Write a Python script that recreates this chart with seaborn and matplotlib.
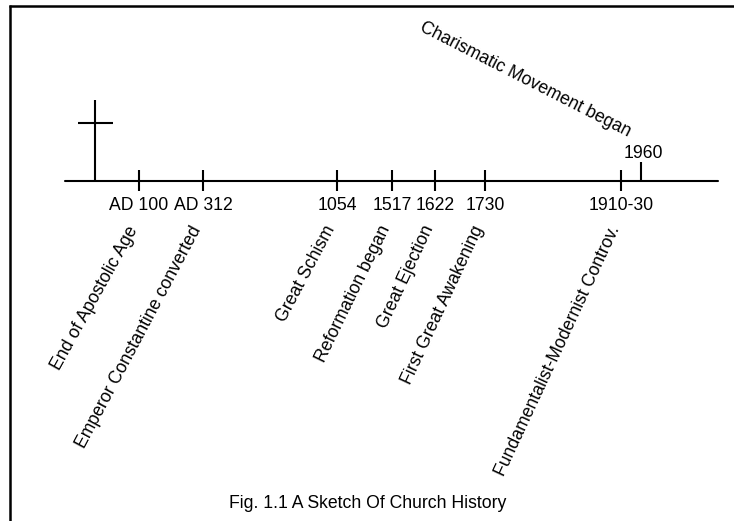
import matplotlib
matplotlib.use("Agg")
import matplotlib.pyplot as plt
import seaborn as sns
import pandas as pd

# ---- data ----
dates = ["AD 100", "AD 312", "1054", "1517", "1622", "1730", "1910-30", "1960"]
events = ["End of Apostolic Age", "Emperor Constantine converted", "Great Schism",
          "Reformation began", "Great Ejection", "First Great Awakening",
          "Fundamentalist-Modernist Controv.", "Charismatic Movement began"]
# sketch positions along the timeline (not to scale)
positions = [139, 203, 337, 392, 435, 485, 621, 641]
caption = "Fig. 1.1 A Sketch Of Church History"

# label angles (layout)
angles = [61, 62, 62, 64, 65, 65, 65]

sns.set_theme(style="white")
plt.rcParams["font.family"] = ["Liberation Sans", "DejaVu Sans"]

fig = plt.figure(figsize=(7.34, 5.21), dpi=100)
ax = fig.add_axes([0, 0, 1, 1])
ax.set_xlim(0, 734)
ax.set_ylim(521, 0)
ax.axis("off")

FS = 12.7
LW = 1.5
axis_y = 181

# frame (top and left only)
ax.plot([9, 734], [5.5, 5.5], color="black", lw=1.8, solid_capstyle="butt")
ax.plot([10, 10], [5, 521], color="black", lw=1.8, solid_capstyle="butt")

# timeline
line_df = pd.DataFrame({"x": [65, 718], "y": [axis_y, axis_y]})
sns.lineplot(data=line_df, x="x", y="y", ax=ax, color="black", lw=LW,
             sort=False, legend=False)

# cross
ax.vlines(95, 100, axis_y, color="black", lw=LW)
ax.hlines(123, 78, 113, color="black", lw=LW)

# ticks
ax.vlines(positions[:-1], 170, 191, color="black", lw=LW)
ax.vlines(positions[-1], 162, axis_y, color="black", lw=LW)

# date labels
for p, d in zip(positions[:-1], dates[:-1]):
    ax.text(p, 205, d, ha="center", va="center", fontsize=FS, color="black")
ax.text(positions[-1] + 2, 153, dates[-1], ha="center", va="center",
        fontsize=FS, color="black")

# event labels (rotated)
for p, e, a in zip(positions[:-1], events[:-1], angles):
    ax.text(p + 2, 223, e, ha="right", va="top", rotation=a,
            fontsize=FS, color="black")
ax.text(525, 80, events[-1], ha="center", va="center", rotation=-27,
        rotation_mode="anchor", fontsize=FS, color="black")

# caption
ax.text(368, 503, caption, ha="center", va="center", fontsize=FS, color="black")

fig.savefig("out.png", dpi=100)
